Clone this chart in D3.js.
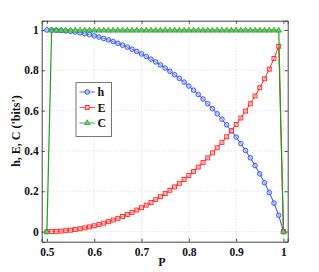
<!DOCTYPE html>
<html><head><meta charset="utf-8">
<script src="https://cdn.jsdelivr.net/npm/d3@7"></script>
<style>
html,body{margin:0;padding:0;background:#fff;}
text{font-family:"Liberation Serif","Times New Roman",serif;font-weight:bold;}
</style></head>
<body><svg id="c" width="319" height="272"></svg>
<script>
const pValues = [0.50,0.51,0.52,0.53,0.54,0.55,0.56,0.57,0.58,0.59,0.60,0.61,0.62,0.63,0.64,0.65,0.66,0.67,0.68,0.69,0.70,0.71,0.72,0.73,0.74,0.75,0.76,0.77,0.78,0.79,0.80,0.81,0.82,0.83,0.84,0.85,0.86,0.87,0.88,0.89,0.90,0.91,0.92,0.93,0.94,0.95,0.96,0.97,0.98,0.99,1.00];
const hValues = [1.000,0.9997,0.9988,0.9974,0.9954,0.9928,0.9896,0.9858,0.9815,0.9765,0.9710,0.9648,0.9580,0.9507,0.9427,0.9341,0.9248,0.9149,0.9044,0.8932,0.8813,0.8687,0.8555,0.8415,0.8267,0.8113,0.7950,0.7780,0.7602,0.7415,0.7219,0.7015,0.6801,0.6577,0.6343,0.6098,0.5842,0.5574,0.5294,0.4999,0.4690,0.4365,0.4022,0.3659,0.3274,0.2864,0.2423,0.1944,0.1414,0.0808,0.000];
const eValues = [0.000,0.0003,0.0012,0.0026,0.0046,0.0072,0.0104,0.0142,0.0185,0.0235,0.0290,0.0352,0.0420,0.0493,0.0573,0.0659,0.0752,0.0851,0.0956,0.1068,0.1187,0.1313,0.1445,0.1585,0.1733,0.1887,0.2050,0.2220,0.2398,0.2585,0.2781,0.2985,0.3199,0.3423,0.3657,0.3902,0.4158,0.4426,0.4706,0.5001,0.5310,0.5635,0.5978,0.6341,0.6726,0.7136,0.7577,0.8056,0.8586,0.9192,0.000];
const cValues = [0,1,1,1,1,1,1,1,1,1,1,1,1,1,1,1,1,1,1,1,1,1,1,1,1,1,1,1,1,1,1,1,1,1,1,1,1,1,1,1,1,1,1,1,1,1,1,1,1,1,0];
const xTicks = [0.5,0.6,0.7,0.8,0.9,1];
const xTickLabels = ["0.5","0.6","0.7","0.8","0.9","1"];
const yTicks = [0,0.2,0.4,0.6,0.8,1];
const yTickLabels = ["0","0.2","0.4","0.6","0.8","1"];
const seriesNames = ["h","E","C"];

const svg = d3.select("#c");
const L=41.7,R=287.7,T=20.7,B=241.7;
const x = d3.scaleLinear().domain([0.489,1.009]).range([L,R]);
const y = d3.scaleLinear().domain([-0.05,1.046]).range([B,T]);

// grid
const g = svg.append("g");
g.selectAll(".gx").data(xTicks).enter().append("line")
 .attr("x1",d=>x(d)).attr("x2",d=>x(d)).attr("y1",T).attr("y2",B)
 .attr("stroke","#cfcfcf").attr("stroke-dasharray","1,2").attr("stroke-width",0.8);
g.selectAll(".gy").data(yTicks).enter().append("line")
 .attr("y1",d=>y(d)).attr("y2",d=>y(d)).attr("x1",L).attr("x2",R)
 .attr("stroke","#cfcfcf").attr("stroke-dasharray","1,2").attr("stroke-width",0.8);

// axes
const fmtX = (d,i)=>xTickLabels[i];
const fmtY = (d,i)=>yTickLabels[i];
const ax = svg.append("g").attr("transform",`translate(0,${B})`)
 .call(d3.axisBottom(x).tickValues(xTicks).tickFormat(fmtX).tickSize(-3).tickPadding(6));
const axT = svg.append("g").attr("transform",`translate(0,${T})`)
 .call(d3.axisTop(x).tickValues(xTicks).tickFormat("").tickSize(-3));
const ay = svg.append("g").attr("transform",`translate(${L},0)`)
 .call(d3.axisLeft(y).tickValues(yTicks).tickFormat(fmtY).tickSize(-3).tickPadding(3));
const ayR = svg.append("g").attr("transform",`translate(${R},0)`)
 .call(d3.axisRight(y).tickValues(yTicks).tickFormat("").tickSize(-3));
[ax,axT,ay,ayR].forEach(a=>{
  a.selectAll("path").attr("stroke","#444").attr("stroke-width",1);
  a.selectAll("line").attr("stroke","#444");
  a.selectAll("text").attr("font-size","11.5px").attr("fill","#111")
   .attr("font-family","'Liberation Serif','Times New Roman',serif").attr("font-weight","bold");
});

const blue="#2a4cff", red="#ff2a2a", green="#1fa01f";
const data = pValues.map((p,i)=>({p,h:hValues[i],E:eValues[i],C:cValues[i]}));

function line(key){return d3.line().x(d=>x(d.p)).y(d=>y(d[key]));}

// h
svg.append("path").datum(data).attr("d",line("h")).attr("fill","none").attr("stroke",blue).attr("stroke-width",1);
svg.selectAll(".mh").data(data).enter().append("circle")
 .attr("cx",d=>x(d.p)).attr("cy",d=>y(d.h)).attr("r",2.3)
 .attr("fill","#b8c4ff").attr("fill-opacity",0.6).attr("stroke",blue).attr("stroke-width",0.9);
// E
svg.append("path").datum(data).attr("d",line("E")).attr("fill","none").attr("stroke",red).attr("stroke-width",1);
svg.selectAll(".me").data(data).enter().append("rect")
 .attr("x",d=>x(d.p)-2).attr("y",d=>y(d.E)-2).attr("width",4).attr("height",4)
 .attr("fill","#ffb0b0").attr("fill-opacity",0.6).attr("stroke",red).attr("stroke-width",0.9);
// C
svg.append("path").datum(data).attr("d",line("C")).attr("fill","none").attr("stroke",green).attr("stroke-width",1.2);
const tri = d3.symbol().type(d3.symbolTriangle).size(14);
svg.selectAll(".mc").data(data).enter().append("path")
 .attr("d",tri).attr("transform",d=>`translate(${x(d.p)},${y(d.C)+0.5})`)
 .attr("fill","#6cc86c").attr("stroke",green).attr("stroke-width",0.7);

// legend
const lg = svg.append("g");
lg.append("rect").attr("x",76).attr("y",82.5).attr("width",35.5).attr("height",54)
 .attr("fill","#fff").attr("stroke","#777").attr("stroke-width",1);
const colors=[blue,red,green];
seriesNames.forEach((nm,i)=>{
  const yy = 92+i*15.5;
  lg.append("line").attr("x1",79.5).attr("x2",95).attr("y1",yy).attr("y2",yy)
   .attr("stroke",colors[i]).attr("stroke-width",1).attr("stroke-opacity",0.8);
  if(i===0) lg.append("circle").attr("cx",87.2).attr("cy",yy).attr("r",2.3).attr("fill","#b8c4ff").attr("stroke",blue).attr("stroke-width",0.9);
  if(i===1) lg.append("rect").attr("x",85.2).attr("y",yy-2).attr("width",4).attr("height",4).attr("fill","#ffb0b0").attr("stroke",red).attr("stroke-width",0.9);
  if(i===2) lg.append("path").attr("d",tri).attr("transform",`translate(87.2,${yy})`).attr("fill","#6cc86c").attr("stroke",green).attr("stroke-width",0.7);
  lg.append("text").attr("x",97.5).attr("y",yy+4).attr("font-size","12px").attr("fill","#111").text(nm);
});

// axis labels
svg.append("text").attr("x",162).attr("y",266).attr("text-anchor","middle").attr("font-size","12px").attr("fill","#111").text("P");
svg.append("text").attr("transform","translate(20,131) rotate(-90)").attr("text-anchor","middle")
 .attr("font-size","12px").attr("fill","#111").text("h, E, C ('bits')");
</script></body></html>
